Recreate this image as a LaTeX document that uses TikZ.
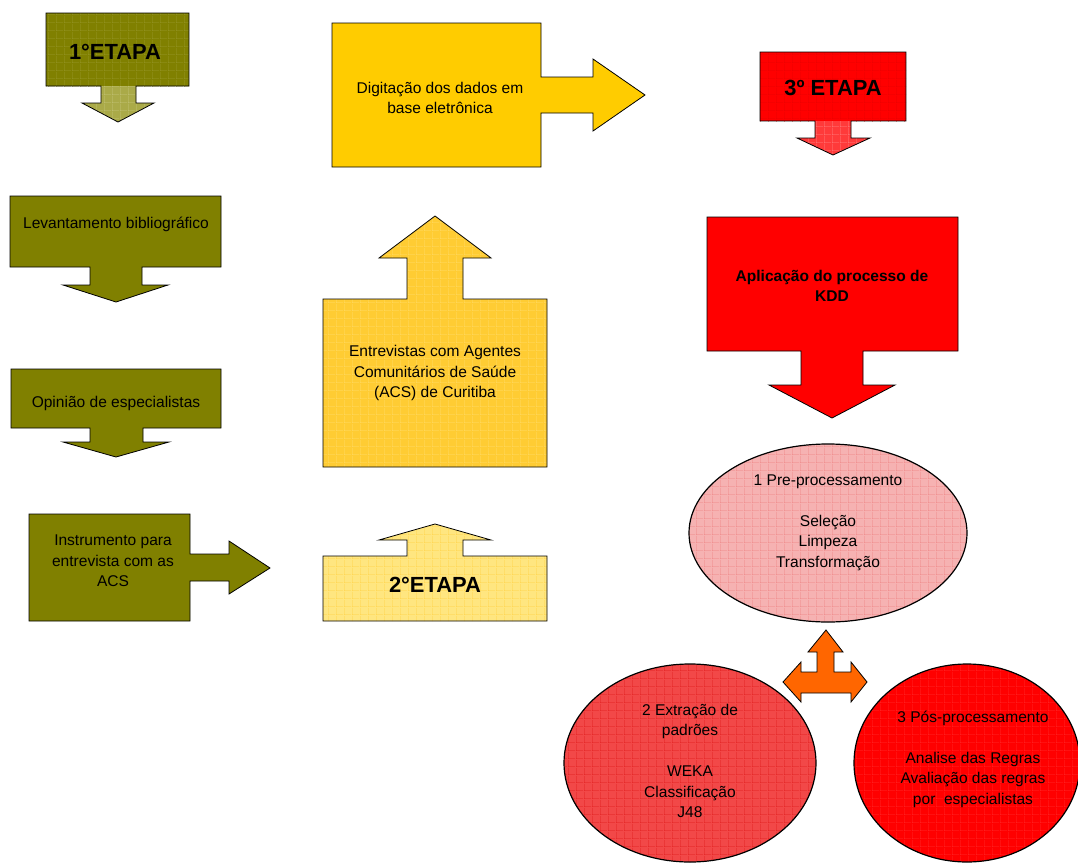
\documentclass[tikz,border=0pt]{standalone}
\usepackage{fontspec}
\setmainfont{Liberation Sans}
\usetikzlibrary{patterns.meta}

\definecolor{oliveDark}{HTML}{808000}
\definecolor{oliveGrid}{HTML}{9A9A30}
\definecolor{oliveLight}{HTML}{AAAA48}
\definecolor{oliveLightGrid}{HTML}{C8C880}
\definecolor{goldFill}{HTML}{FFCC00}
\definecolor{yellowMid}{HTML}{FFCC33}
\definecolor{yellowMidGrid}{HTML}{FFDD70}
\definecolor{yellowPale}{HTML}{FFE680}
\definecolor{yellowPaleGrid}{HTML}{FFD040}
\definecolor{redFull}{HTML}{FF0000}
\definecolor{redGrid}{HTML}{E60000}
\definecolor{redSoft}{HTML}{FF3A3A}
\definecolor{redSoftGrid}{HTML}{FF8888}
\definecolor{pinkFill}{HTML}{F6B2B2}
\definecolor{pinkGrid}{HTML}{EE8080}
\definecolor{redMid}{HTML}{F24848}
\definecolor{redMidGrid}{HTML}{E01A1A}
\definecolor{redHot}{HTML}{FF3030}
\definecolor{orangeFill}{HTML}{FF6600}

\tikzdeclarepattern{
  name=cells,
  type=uncolored,
  bounding box={(0,0) and (8bp,8bp)},
  tile size={(8bp,8bp)},
  code={\draw[line width=1bp] (0,0) -- (8bp,0) (0,0) -- (0,8bp);}
}

\begin{document}
\begin{tikzpicture}[x=1bp, y=-1bp,
    callout/.style={draw=black, line width=0.8bp, line join=miter},
    gridfill/.style 2 args={preaction={fill=#1}, pattern=cells, pattern color=#2},
    boxtext/.style={font=\fontsize{15.6}{20.5}\selectfont, align=center, inner sep=0pt},
    stagetext/.style={font=\fontsize{22}{26}\selectfont\bfseries, inner sep=0pt}
]
    \useasboundingbox (0,0) rectangle (1078,863);

    % 1a etapa
    \path[gridfill={oliveDark}{oliveGrid}] (46,13) rectangle (189,86);
    \path[gridfill={oliveLight}{oliveLightGrid}] (101,86) -- (136,86) -- (136,103) -- (154,103) -- (118,122) -- (82,103) -- (101,103) -- cycle;
    \draw[callout] (46,13) -- (189,13) -- (189,86) -- (136,86) -- (136,103) -- (154,103) -- (118,122) -- (82,103) -- (101,103) -- (101,86) -- (46,86) -- cycle;
    \node[stagetext] (etapa1) at (115,51.5) {1°ETAPA};

    \draw[callout, fill=oliveDark] (10,196) -- (221,196) -- (221,267) -- (142,267) -- (142,285) -- (168,285) -- (116,302) -- (63,285) -- (90,285) -- (90,267) -- (10,267) -- cycle;
    \node[boxtext] (levant) at (116,224) {Levantamento bibliográfico};

    \draw[callout, fill=oliveDark] (11,369) -- (221,369) -- (221,428) -- (143,428) -- (143,442) -- (169,442) -- (116,457) -- (63,442) -- (90,442) -- (90,428) -- (11,428) -- cycle;
    \node[boxtext] (opiniao) at (116,403) {Opinião de especialistas};

    \draw[callout, fill=oliveDark] (29,514) -- (190,514) -- (190,554) -- (229,554) -- (229,541) -- (270,568) -- (229,594) -- (229,581) -- (190,581) -- (190,621) -- (29,621) -- cycle;
    \node[boxtext] (instrum) at (113,561) {Instrumento para\\entrevista com as\\ACS};

    % 2a etapa
    \draw[callout, gridfill={yellowPale}{yellowPaleGrid}] (323,621) -- (323,556) -- (407,556) -- (407,540) -- (379,540) -- (435,524) -- (491,540) -- (463,540) -- (463,556) -- (547,556) -- (547,621) -- cycle;
    \node[stagetext] (etapa2) at (435,585) {2°ETAPA};

    \draw[callout, gridfill={yellowMid}{yellowMidGrid}] (323,467) -- (323,299) -- (407,299) -- (407,258) -- (379,258) -- (435,216) -- (491,258) -- (463,258) -- (463,299) -- (547,299) -- (547,467) -- cycle;
    \node[boxtext] (entrev) at (435,373) {Entrevistas com Agentes\\Comunitários de Saúde\\(ACS) de Curitiba};

    \draw[callout, fill=goldFill] (332,23) -- (541,23) -- (541,77) -- (593,77) -- (593,59) -- (645,95) -- (593,131) -- (593,113) -- (541,113) -- (541,167) -- (332,167) -- cycle;
    \node[boxtext] (digit) at (440,98) {Digitação dos dados em\\base eletrônica};

    % 3a etapa
    \path[gridfill={redFull}{redGrid}] (760,52) rectangle (906,121);
    \path[gridfill={redSoft}{redSoftGrid}] (815,121) -- (851,121) -- (851,138) -- (870,138) -- (833,155) -- (797,138) -- (815,138) -- cycle;
    \draw[callout] (760,52) -- (906,52) -- (906,121) -- (851,121) -- (851,138) -- (870,138) -- (833,155) -- (797,138) -- (815,138) -- (815,121) -- (760,121) -- cycle;
    \node[stagetext] (etapa3) at (833,88) {3º ETAPA};

    \draw[callout, fill=redFull] (707,217) -- (958,217) -- (958,351) -- (863,351) -- (863,385) -- (895,385) -- (832,418) -- (769,385) -- (801,385) -- (801,351) -- (707,351) -- cycle;
    \node[boxtext, font=\fontsize{15.6}{20.5}\selectfont\bfseries] (kdd) at (832,286) {Aplicação do processo de\\KDD};

    % fases do KDD
    \draw[callout, line width=1.2bp, gridfill={pinkFill}{pinkGrid}] (828,533) ellipse [x radius=139, y radius=89];
    \node[boxtext] (prep) at (828,522.5) {1 Pre-processamento\\[20.5bp]Seleção\\Limpeza\\Transformação};

    \draw[callout, line width=1.2bp, gridfill={redMid}{redMidGrid}] (690,763) ellipse [x radius=126, y radius=99];
    \node[boxtext] (extr) at (690,761) {2 Extração de\\padrões\\[20.5bp]WEKA\\Classificação\\J48};

    \draw[callout, line width=1.2bp, gridfill={redFull}{redHot}] (967,763) ellipse [x radius=113, y radius=99];
    \node[boxtext] (posp) at (973,759) {3 Pós-processamento\\[20.5bp]Analise das Regras\\Avaliação das regras\\por\ \ especialistas};

    \draw[callout, fill=orangeFill] (826,630) -- (843,652) -- (834,652) -- (834,672) -- (851,672) -- (851,662) -- (867,682) -- (851,702) -- (851,693) -- (801,693) -- (801,702) -- (783,682) -- (801,662) -- (801,672) -- (817,672) -- (817,652) -- (808,652) -- cycle;
\end{tikzpicture}
\end{document}
